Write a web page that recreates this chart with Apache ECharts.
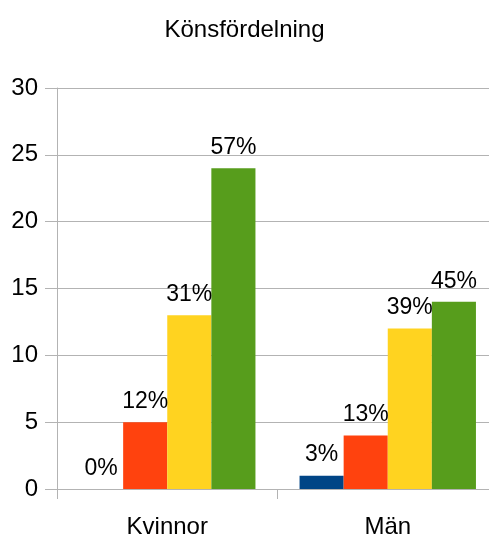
<!DOCTYPE html>
<html>
<head>
<meta charset="utf-8">
<script src="https://cdn.jsdelivr.net/npm/echarts@6/dist/echarts.min.js"></script>
<style>
  html, body { margin: 0; padding: 0; background: #fff; }
  #chart { width: 489px; height: 535px; }
</style>
</head>
<body>
<div id="chart"></div>
<script>
var categories = ['Kvinnor', 'Män'];
var seriesA = [0, 1];
var seriesB = [5, 4];
var seriesC = [13, 12];
var seriesD = [24, 14];
var labelsA = ['0%', '3%'];
var labelsB = ['12%', '13%'];
var labelsC = ['31%', '39%'];
var labelsD = ['57%', '45%'];
var colors = ['#004586', '#ff420e', '#ffd320', '#579d1c'];

var font = '"Liberation Sans", Arial, sans-serif';

function makeSeries(values, labels, color) {
  return {
    type: 'bar',
    data: values,
    barGap: '0%',
    barCategoryGap: '20%',
    itemStyle: { color: color },
    label: {
      show: true,
      position: 'top',
      distance: 9,
      color: '#000',
      fontFamily: font,
      fontSize: 23,
      formatter: function (p) { return labels[p.dataIndex]; }
    }
  };
}

var chart = echarts.init(document.getElementById('chart'));
chart.setOption({
  animation: false,
  title: {
    text: 'Könsfördelning',
    left: 'center',
    top: 13,
    textStyle: { fontFamily: font, fontSize: 24, fontWeight: 'normal', color: '#000' }
  },
  // plot runs past the right edge of the canvas, as in the original
  grid: { left: 57, width: 441, top: 88, bottom: 46, outerBoundsMode: 'none' },
  xAxis: {
    type: 'category',
    data: categories,
    axisLine: { lineStyle: { color: '#b3b3b3' } },
    axisTick: { show: true, length: 10, lineStyle: { color: '#b3b3b3' } },
    axisLabel: { color: '#000', fontFamily: font, fontSize: 24, margin: 26 }
  },
  yAxis: {
    type: 'value',
    min: 0,
    max: 30,
    interval: 5,
    axisLine: { show: true, lineStyle: { color: '#b3b3b3' } },
    axisTick: { show: true, length: 12, lineStyle: { color: '#b3b3b3' } },
    splitLine: { lineStyle: { color: '#b3b3b3' } },
    axisLabel: { color: '#000', fontFamily: font, fontSize: 24, margin: 19 }
  },
  series: [
    makeSeries(seriesA, labelsA, colors[0]),
    makeSeries(seriesB, labelsB, colors[1]),
    makeSeries(seriesC, labelsC, colors[2]),
    makeSeries(seriesD, labelsD, colors[3])
  ]
});
</script>
</body>
</html>
